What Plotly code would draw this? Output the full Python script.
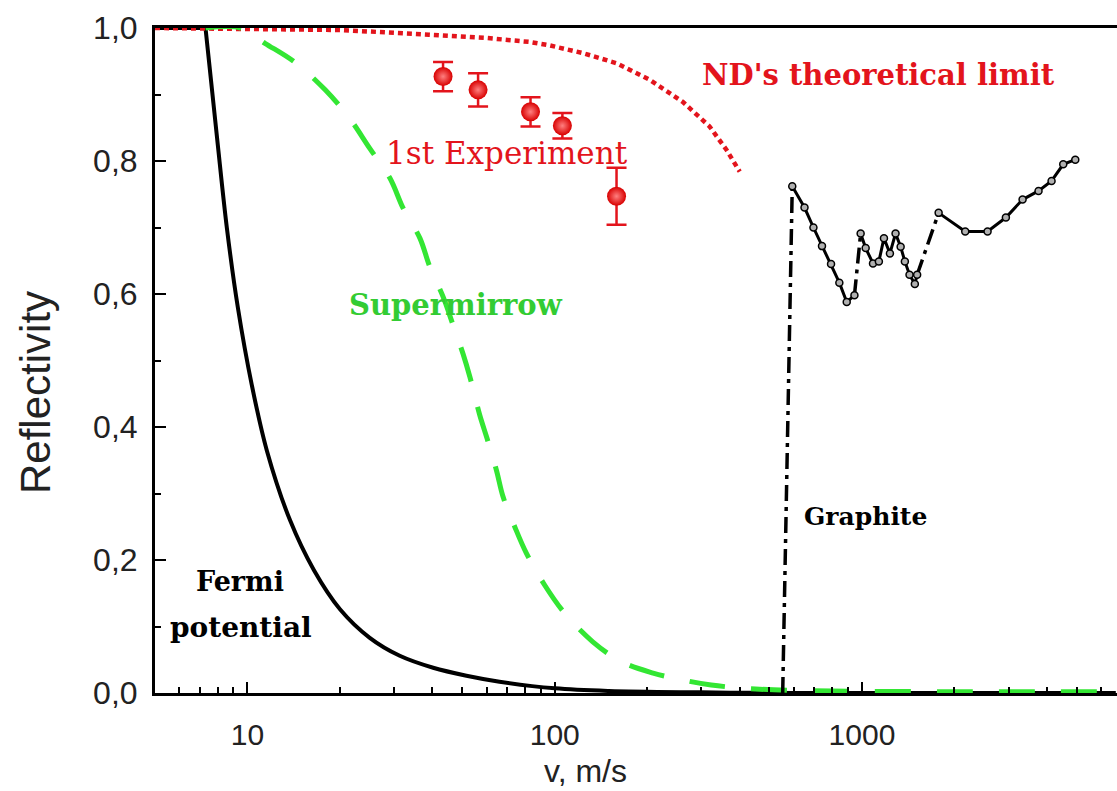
import plotly.graph_objects as go
import math

# ---------------- data ----------------
fermi_flat_v = [5, 7.3]
fermi_flat_r = [1.0, 1.0]
fermi_v = [7.3, 7.96, 8.57, 9.30, 10.33, 11.57, 13.75, 16.44, 20.0, 25.0, 31.3, 40.2, 51.6, 66.1, 100, 150, 300, 600, 6700]
fermi_r = [1.0, 0.835, 0.699, 0.580, 0.463, 0.364, 0.260, 0.185, 0.126, 0.083, 0.056, 0.038, 0.026, 0.017,
           0.007, 0.003, 0.001, 0.0, 0.0]

super_flat_v = [7.3, 9.5]
super_flat_r = [1.0, 1.0]
super_v = [9.5, 11.4, 14.3, 17.9, 21.5, 25.0, 29.1, 32.1, 36.4, 39.2, 43.3, 46.7, 50.3, 52.9, 57.0,
           60.2, 64.6, 67.9, 74.1, 80.9, 92.8, 107.7, 133, 165, 209, 261, 323, 450, 800, 2000, 6700]
super_r = [1.0, 0.977, 0.948, 0.907, 0.864, 0.819, 0.774, 0.729, 0.684, 0.641, 0.596, 0.553, 0.51,
           0.476, 0.418, 0.383, 0.335, 0.295, 0.25, 0.21, 0.162, 0.12, 0.077, 0.047, 0.03, 0.0195, 0.012,
           0.006, 0.003, 0.002, 0.002]

nd_v = [5, 20, 39, 60, 83, 96, 124, 159, 204, 261, 319, 362, 400]
nd_r = [1.0, 0.997, 0.99, 0.985, 0.979, 0.974, 0.962, 0.947, 0.922, 0.889, 0.852, 0.817, 0.784]

exp_v = [43.3, 56.3, 83.4, 105.9, 158.9]
exp_r = [0.927, 0.907, 0.874, 0.853, 0.747]
exp_err = [0.022, 0.025, 0.022, 0.019, 0.043]

# graphite: solid segments with markers
gA_v = [593, 650, 695, 741, 793, 844, 892, 945]
gA_r = [0.762, 0.730, 0.700, 0.672, 0.645, 0.617, 0.588, 0.598]
gB_v = [990, 1028, 1086, 1135, 1179, 1233, 1286, 1336, 1379, 1428, 1486, 1512]
gB_r = [0.691, 0.669, 0.646, 0.649, 0.684, 0.661, 0.691, 0.671, 0.649, 0.629, 0.615, 0.629]
gC_v = [1776, 2168, 2563, 2940, 3332, 3755, 4140, 4519, 4946]
gC_r = [0.722, 0.694, 0.694, 0.715, 0.742, 0.755, 0.770, 0.795, 0.802]
# graphite: dash-dot connecting pieces
gD_v = [552, 593, None, 945, 990, None, 1512, 1776]
gD_r = [0.0, 0.762, None, 0.598, 0.691, None, 0.629, 0.722]

y_ticks = [0.0, 0.2, 0.4, 0.6, 0.8, 1.0]
y_ticktext = ["0,0", "0,2", "0,4", "0,6", "0,8", "1,0"]
x_ticks = [10, 100, 1000]
x_ticktext = ["10", "100", "1000"]
x_minor = [6, 7, 8, 9, 20, 30, 40, 50, 60, 70, 80, 90, 200, 300, 400, 500, 600, 700, 800, 900,
           2000, 3000, 4000, 5000, 6000]
y_minor = [0.1, 0.3, 0.5, 0.7, 0.9]

RED = "#e3141c"
GREEN = "#33e633"
SERIF = "DejaVu Serif"
SANS = "Liberation Sans, Arial"

fig = go.Figure()

fig.add_trace(go.Scatter(x=fermi_flat_v, y=fermi_flat_r, mode="lines",
                         line=dict(color="black", width=4), showlegend=False))
fig.add_trace(go.Scatter(x=fermi_v, y=fermi_r, mode="lines", line_shape="spline",
                         line=dict(color="black", width=4), showlegend=False))
fig.add_trace(go.Scatter(x=nd_v, y=nd_r, mode="lines",
                         line=dict(color=RED, width=4.5, dash="5px,4px"), showlegend=False))
fig.add_trace(go.Scatter(x=super_flat_v + super_v[1:], y=super_flat_r + super_r[1:], mode="lines",
                         line_shape="spline",
                         line=dict(color=GREEN, width=5, dash="36px,26px"), showlegend=False))
fig.add_trace(go.Scatter(x=gD_v, y=gD_r, mode="lines", connectgaps=False,
                         line=dict(color="black", width=3.5, dash="16px,6px,4px,6px"), showlegend=False))
for gv, gr in [(gA_v, gA_r), (gB_v, gB_r), (gC_v, gC_r)]:
    fig.add_trace(go.Scatter(x=gv, y=gr, mode="lines+markers",
                             line=dict(color="black", width=3),
                             marker=dict(size=7, color="#b0b0b0", line=dict(color="black", width=1.5)),
                             showlegend=False))
fig.add_trace(go.Scatter(x=exp_v, y=exp_r, mode="markers",
                         error_y=dict(type="data", array=exp_err, color=RED, thickness=2.5, width=10),
                         marker=dict(size=19, color="#d80000",
                                     gradient=dict(type="radial", color="#ff8080"),
                                     line=dict(width=0)),
                         showlegend=False))

annos = [
    dict(text="<b>ND's theoretical limit</b>", x=3.0535, y=0.929, color=RED, size=29),
    dict(text="1st Experiment", x=1.8437, y=0.812, color=RED, size=31),
    dict(text="<b>Supermirrow</b>", x=1.678, y=0.583, color="#33cc33", size=29),
    dict(text="<b>Graphite</b>", x=3.0113, y=0.265, color="black", size=25),
    dict(text="<b>Fermi</b>", x=0.9754, y=0.167, color="black", size=27),
    dict(text="<b>potential</b>", x=0.978, y=0.099, color="black", size=28),
]
for a in annos:
    fig.add_annotation(x=a["x"], y=a["y"], xref="x", yref="y", text=a["text"], showarrow=False,
                       font=dict(family=SERIF, size=a["size"], color=a["color"]),
                       xanchor="center", yanchor="middle")

# axis titles placed as in the original (off-centre)
fig.add_annotation(x=(585 - 155) / 962, y=-(771 - 693) / 665, xref="paper", yref="paper",
                   text="v, m/s", showarrow=False, xanchor="center", yanchor="middle",
                   font=dict(family=SANS, size=32, color="#222"))
fig.add_annotation(x=(35 - 155) / 962, y=(693 - 393) / 665, xref="paper", yref="paper",
                   text="Reflectivity", showarrow=False, textangle=-90, xanchor="center", yanchor="middle",
                   font=dict(family=SANS, size=42, color="#222"))

fig.update_xaxes(type="log", range=[math.log10(5), 3.83],
                 tickvals=x_ticks, ticktext=x_ticktext,
                 ticks="inside", ticklen=11, tickwidth=2, tickcolor="black",
                 minor=dict(tickvals=x_minor, ticks="inside", ticklen=6, tickwidth=2, tickcolor="black"),
                 showline=True, linewidth=3, linecolor="black", mirror=True,
                 showgrid=False, zeroline=False,
                 tickfont=dict(family=SANS, size=30, color="#222"),
                 ticklabelstandoff=13)
fig.update_yaxes(range=[0, 1.0], tickvals=y_ticks, ticktext=y_ticktext,
                 ticks="inside", ticklen=11, tickwidth=2, tickcolor="black",
                 minor=dict(tickvals=y_minor, ticks="inside", ticklen=6, tickwidth=2, tickcolor="black"),
                 showline=True, linewidth=3, linecolor="black", mirror=False,
                 showgrid=False, zeroline=False,
                 tickfont=dict(family=SANS, size=32, color="#222"),
                 ticklabelstandoff=8)

fig.update_layout(width=1117, height=791, margin=dict(l=155, r=0, t=28, b=98),
                  plot_bgcolor="white", paper_bgcolor="white")

fig.write_html("out.html")
